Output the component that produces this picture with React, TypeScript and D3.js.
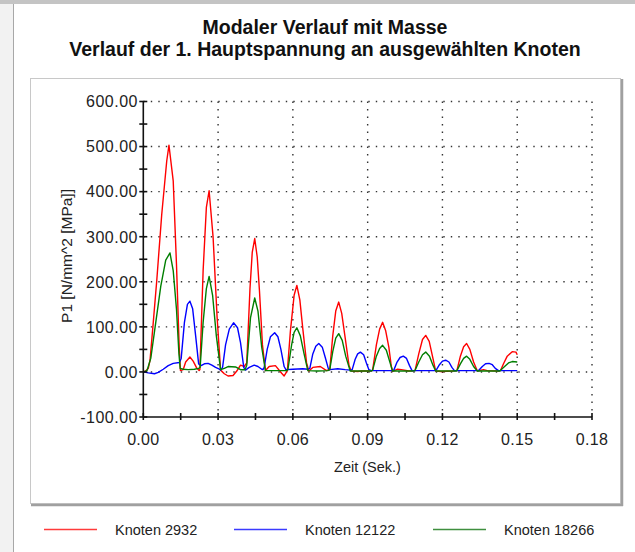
import React, { useEffect, useRef } from "react";
import * as d3 from "d3";

// [Zeit (s), P1 (MPa)]
const knoten2932: [number, number][] = [
  [0, 0], [0.001, 2], [0.002, 8], [0.0027, 26], [0.004, 110], [0.0054, 203], [0.0074, 350],
  [0.0094, 468], [0.0103, 503], [0.012, 424], [0.0133, 240], [0.0144, 55], [0.0149, 3],
  [0.016, 5], [0.017, 22], [0.0187, 33], [0.02, 24], [0.0215, 8], [0.0224, 3],
  [0.0227, 5], [0.024, 225], [0.0253, 365], [0.0264, 402], [0.028, 299], [0.0296, 122],
  [0.031, 4], [0.0325, -4], [0.034, -9], [0.036, -8], [0.0375, 2], [0.039, 15], [0.0405, 12],
  [0.0415, 20], [0.0428, 185], [0.0437, 265], [0.0447, 296], [0.0457, 255], [0.0466, 180],
  [0.0478, 60], [0.049, 3], [0.0505, 12], [0.053, 14], [0.0555, -3], [0.0565, -9], [0.0575, 0],
  [0.0578, 3], [0.059, 90], [0.0605, 170], [0.0616, 192], [0.0628, 160], [0.064, 95],
  [0.0655, 20], [0.0664, 2], [0.068, 10], [0.071, 12], [0.0735, 3], [0.0745, 5],
  [0.0748, 5], [0.076, 80], [0.0772, 135], [0.0784, 155], [0.0796, 130], [0.081, 75],
  [0.0825, 15], [0.0834, 2], [0.086, 1], [0.0875, 2], [0.0915, 2],
  [0.092, 4], [0.0935, 60], [0.0948, 95], [0.096, 110], [0.0972, 92], [0.0985, 55],
  [0.0995, 12], [0.1, 1], [0.102, 6], [0.1035, 5], [0.1065, 2], [0.1085, 3],
  [0.109, 3], [0.1105, 40], [0.112, 72], [0.1133, 81], [0.1147, 68], [0.116, 35],
  [0.1173, 2], [0.1195, 1], [0.124, 2], [0.1255, 3],
  [0.1258, 3], [0.1272, 35], [0.1285, 56], [0.1297, 63], [0.131, 50], [0.1325, 22],
  [0.134, 2], [0.1365, 5], [0.138, 3], [0.1425, 2], [0.1433, 3],
  [0.1445, 18], [0.146, 35], [0.148, 45], [0.1495, 44], [0.15, 38],
];

const knoten12122: [number, number][] = [
  [0, 0], [0.002, -2], [0.0045, -4], [0.006, -1], [0.008, 6], [0.01, 14], [0.012, 19],
  [0.0145, 21], [0.0152, 30], [0.0165, 110], [0.0177, 150], [0.0187, 157], [0.0198, 140],
  [0.021, 80], [0.0222, 18], [0.0232, 14], [0.0245, 18], [0.026, 19], [0.0275, 15],
  [0.029, 10], [0.0303, 7], [0.031, 4],
  [0.0318, 10], [0.033, 60], [0.0345, 95], [0.0362, 109], [0.0378, 98], [0.039, 65],
  [0.0403, 10], [0.041, 4], [0.0425, 10], [0.0445, 15], [0.046, 12], [0.0475, 6], [0.048, 5],
  [0.0485, 10], [0.0497, 50], [0.051, 78], [0.0527, 87], [0.054, 78], [0.0552, 50],
  [0.0565, 12], [0.0572, 5], [0.06, 6], [0.064, 7], [0.066, 6],
  [0.0668, 8], [0.068, 40], [0.0692, 57], [0.0704, 63], [0.0718, 55], [0.073, 32],
  [0.0742, 8], [0.0748, 5], [0.078, 7], [0.081, 5], [0.083, 4],
  [0.0838, 5], [0.085, 28], [0.086, 40], [0.0871, 44], [0.0884, 38], [0.0895, 20],
  [0.0905, 5], [0.0915, 3], [0.1, 3],
  [0.1005, 4], [0.1018, 22], [0.103, 32], [0.1043, 35], [0.1056, 30], [0.1068, 14],
  [0.1078, 3], [0.117, 3],
  [0.1175, 4], [0.1188, 16], [0.12, 24], [0.1213, 26], [0.1226, 22], [0.1238, 10],
  [0.1248, 3], [0.1345, 3],
  [0.136, 12], [0.1373, 18], [0.1387, 19], [0.14, 16], [0.1412, 8], [0.1425, 3], [0.15, 3],
];

const knoten18266: [number, number][] = [
  [0, 0], [0.0015, 3], [0.003, 30], [0.005, 110], [0.007, 190], [0.009, 248], [0.0107, 264],
  [0.012, 225], [0.0133, 140], [0.0143, 40], [0.0148, 8], [0.016, 6], [0.018, 5],
  [0.0205, 6], [0.0222, 8],
  [0.0228, 10], [0.024, 110], [0.0253, 185], [0.0264, 212], [0.0278, 170], [0.0293, 80],
  [0.031, 5], [0.0325, 8], [0.034, 12], [0.037, 11], [0.039, 5], [0.0408, 5],
  [0.0415, 15], [0.043, 120], [0.0447, 164], [0.046, 135], [0.0475, 55], [0.049, 3],
  [0.052, 3], [0.056, 3], [0.0575, 3],
  [0.058, 5], [0.0595, 60], [0.0605, 88], [0.0616, 98], [0.063, 80], [0.0645, 40],
  [0.066, 3], [0.07, 2], [0.074, 3],
  [0.0748, 5], [0.076, 45], [0.0772, 75], [0.0784, 85], [0.0798, 70], [0.0812, 35],
  [0.083, 2], [0.088, 2], [0.0915, 2],
  [0.092, 4], [0.0935, 35], [0.0948, 52], [0.096, 59], [0.0975, 48], [0.099, 20],
  [0.1, 2], [0.108, 2],
  [0.109, 3], [0.1105, 22], [0.112, 38], [0.1133, 44], [0.1148, 35], [0.1162, 15],
  [0.1173, 2], [0.1255, 2],
  [0.1258, 3], [0.1272, 18], [0.1285, 30], [0.1297, 35], [0.131, 28], [0.1325, 12],
  [0.134, 2], [0.143, 2],
  [0.1445, 10], [0.1465, 20], [0.148, 23], [0.15, 22],
];

const seriesNames = ["Knoten 2932", "Knoten 12122", "Knoten 18266"];
const seriesColors = ["#ff0000", "#0000ff", "#007f00"];
const legendColors = ["#ff3b3b", "#3b3bff", "#3f8f3f"];

const xTicks = [0, 0.03, 0.06, 0.09, 0.12, 0.15, 0.18];
const xMinorTicks = [0.015, 0.045, 0.075, 0.105, 0.135, 0.165];
const yTicks = [-100, 0, 100, 200, 300, 400, 500, 600];
const yMinorTicks = [-50, 50, 150, 250, 350, 450, 550];

const titleLines = [
  "Modaler Verlauf mit Masse",
  "Verlauf der 1. Hauptspannung an ausgewählten Knoten",
];

const App = () => {
  const ref = useRef<SVGSVGElement>(null);

  useEffect(() => {
    draw();
  });

  const draw = () => {
    const svg = d3.select(ref.current);
    svg.selectAll("*").remove();

    const W = 635;
    const H = 552;
    const font = "'Liberation Sans', Arial, sans-serif";

    // window frame
    svg.append("rect").attr("width", W).attr("height", H).attr("fill", "#f2f2f2");
    svg.append("rect").attr("x", 13).attr("y", 4).attr("width", W - 13).attr("height", H - 4).attr("fill", "#fff");
    svg.append("rect").attr("width", W).attr("height", 4).attr("fill", "#c4c4c4");
    svg.append("line").attr("x1", 13.5).attr("x2", 13.5).attr("y1", 4).attr("y2", H).attr("stroke", "#a8a8a8");

    // titles
    titleLines.forEach((t, i) => {
      svg.append("text")
        .attr("x", 325).attr("y", 34 + i * 21.5)
        .attr("text-anchor", "middle")
        .attr("font-family", font).attr("font-weight", "bold").attr("font-size", 19.5)
        .attr("fill", "#111")
        .text(t);
    });

    // inner plot panel
    svg.append("rect").attr("x", 30.5).attr("y", 78.5).attr("width", 590).attr("height", 425)
      .attr("fill", "#fff").attr("stroke", "#c8c8c8");
    svg.append("line").attr("x1", 622).attr("x2", 622).attr("y1", 79).attr("y2", 506)
      .attr("stroke", "#a0a0a0").attr("stroke-width", 2.5);
    svg.append("line").attr("x1", 31).attr("x2", 623).attr("y1", 505).attr("y2", 505)
      .attr("stroke", "#a0a0a0").attr("stroke-width", 2.5);

    const x = d3.scaleLinear().domain([0, 0.18]).range([143.3, 592]);
    const y = d3.scaleLinear().domain([-100, 600]).range([417, 101.5]);
    // plain hyphen for negatives, like the original
    const fmt = (v: number) => d3.format(".2f")(v).replace("\u2212", "-");

    // dotted grid
    const grid = svg.append("g").attr("stroke", "#333").attr("stroke-width", 1.4)
      .attr("stroke-dasharray", "1.4 6.1");
    grid.selectAll(".gx").data(xTicks.slice(1)).enter().append("line")
      .attr("x1", (d) => x(d)).attr("x2", (d) => x(d))
      .attr("y1", y(600)).attr("y2", y(-100));
    grid.selectAll(".gy").data(yTicks.slice(1)).enter().append("line")
      .attr("x1", x(0)).attr("x2", x(0.18))
      .attr("y1", (d) => y(d)).attr("y2", (d) => y(d));

    // curves
    const line = d3.line<[number, number]>()
      .x((d) => x(d[0]))
      .y((d) => y(d[1]));
    [knoten2932, knoten12122, knoten18266].forEach((s, i) => {
      svg.append("path").datum(s)
        .attr("d", line)
        .attr("fill", "none")
        .attr("stroke", seriesColors[i])
        .attr("stroke-width", 1.4)
        .attr("stroke-linejoin", "round");
    });

    // axes
    const ax = svg.append("g").attr("stroke", "#111").attr("stroke-width", 1.6);
    ax.append("line").attr("x1", x(0)).attr("x2", x(0)).attr("y1", y(600)).attr("y2", y(-100));
    ax.append("line").attr("x1", x(0)).attr("x2", x(0.18)).attr("y1", y(-100)).attr("y2", y(-100));
    ax.selectAll(".ty").data(yTicks.concat(yMinorTicks)).enter().append("line")
      .attr("x1", x(0) - 4).attr("x2", x(0) + 4)
      .attr("y1", (d) => y(d)).attr("y2", (d) => y(d));
    ax.selectAll(".tx").data(xTicks.concat(xMinorTicks)).enter().append("line")
      .attr("x1", (d) => x(d)).attr("x2", (d) => x(d))
      .attr("y1", y(-100) - 4).attr("y2", y(-100) + 3);

    // tick labels
    svg.selectAll(".ly").data(yTicks).enter().append("text")
      .attr("x", 138).attr("y", (d) => y(d) + 5.8)
      .attr("text-anchor", "end")
      .attr("font-family", font).attr("font-size", 16).attr("letter-spacing", 0.5)
      .attr("fill", "#222")
      .text((d) => fmt(d));
    svg.selectAll(".lx").data(xTicks).enter().append("text")
      .attr("x", (d) => x(d)).attr("y", 445)
      .attr("text-anchor", "middle")
      .attr("font-family", font).attr("font-size", 16).attr("letter-spacing", 0.3)
      .attr("fill", "#222")
      .text((d) => fmt(d));

    // axis titles
    svg.append("text")
      .attr("x", 367.5).attr("y", 472)
      .attr("text-anchor", "middle")
      .attr("font-family", font).attr("font-size", 14.5)
      .attr("fill", "#222")
      .text("Zeit (Sek.)");
    svg.append("text")
      .attr("transform", "translate(72,256) rotate(-90)")
      .attr("text-anchor", "middle")
      .attr("font-family", font).attr("font-size", 15.5)
      .attr("fill", "#222")
      .text("P1 [N/mm^2 [MPa]]");

    // legend
    const legendX = [44, 234, 433];
    seriesNames.forEach((n, i) => {
      svg.append("line")
        .attr("x1", legendX[i]).attr("x2", legendX[i] + 53)
        .attr("y1", 529.5).attr("y2", 529.5)
        .attr("stroke", legendColors[i]).attr("stroke-width", 1.3);
      svg.append("text")
        .attr("x", legendX[i] + 71).attr("y", 535)
        .attr("font-family", font).attr("font-size", 14.5)
        .attr("fill", "#222")
        .text(n);
    });
  };

  return (
    <svg
      ref={ref}
      width={635}
      height={552}
      style={{ position: "absolute", left: 0, top: 0 }}
    />
  );
};

export default App;
